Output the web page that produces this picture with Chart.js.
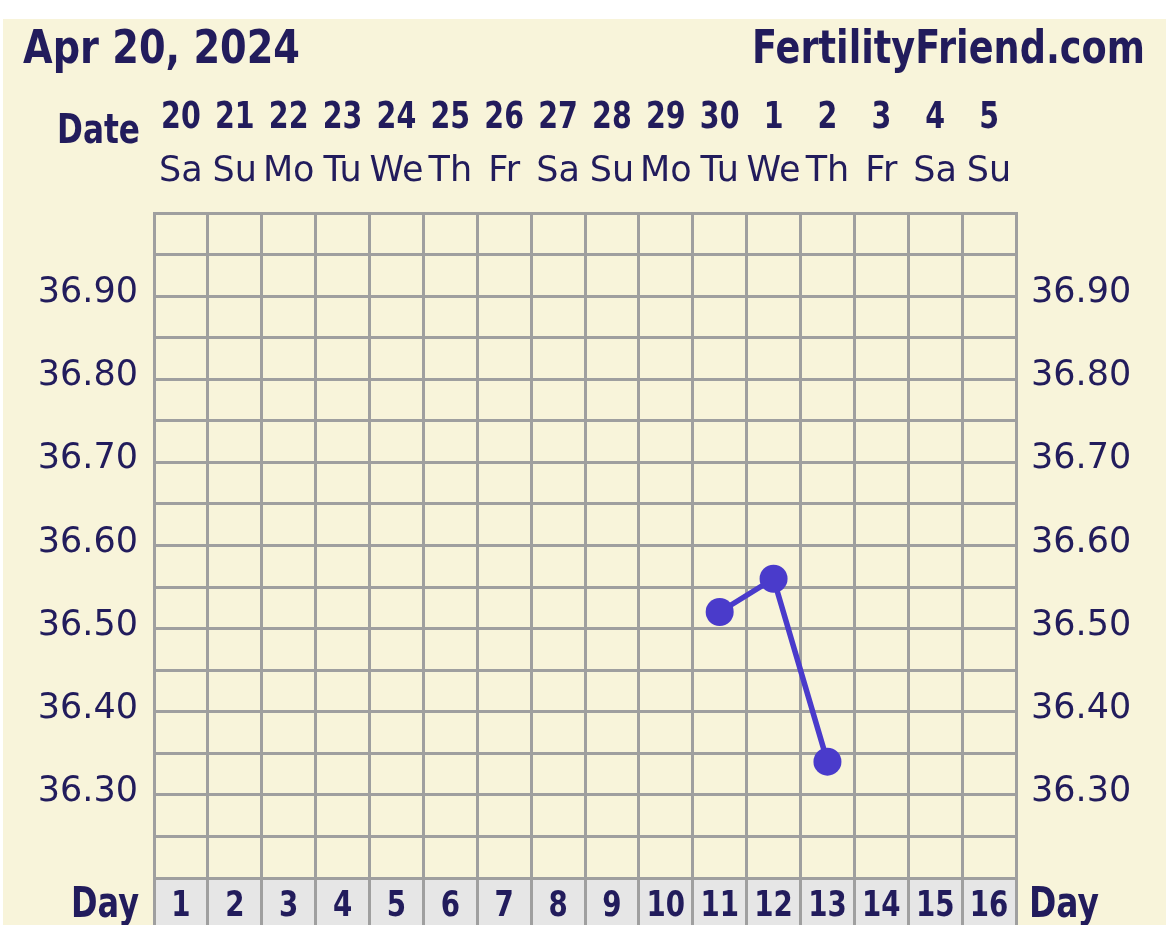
<!DOCTYPE html>
<html>
<head>
<meta charset="utf-8">
<script src="https://cdn.jsdelivr.net/npm/chart.js@4/dist/chart.umd.min.js"></script>
<style>
  html, body { margin: 0; padding: 0; background: #fff; }
  canvas { display: block; }
</style>
</head>
<body>
<canvas id="bbtChart" width="1170" height="925"></canvas>
<script>
const chartDate = 'Apr 20, 2024';
const siteName = 'FertilityFriend.com';

const days = ['1', '2', '3', '4', '5', '6', '7', '8', '9', '10', '11', '12', '13', '14', '15', '16'];
const dates = ['20', '21', '22', '23', '24', '25', '26', '27', '28', '29', '30', '1', '2', '3', '4', '5'];
const weekdays = ['Sa', 'Su', 'Mo', 'Tu', 'We', 'Th', 'Fr', 'Sa', 'Su', 'Mo', 'Tu', 'We', 'Th', 'Fr', 'Sa', 'Su'];
const temps = [null, null, null, null, null, null, null, null, null, null, 36.52, 36.56, 36.34, null, null, null];
const tempLabels = ['36.30', '36.40', '36.50', '36.60', '36.70', '36.80', '36.90'];

const NAVY = '#221c5c';
const CREAM = '#f8f4da';
const GRID = '#9f9f9f';
const BAND = '#e6e6e6';
const LINE = '#4a3bcb';
const BOLD = '"DejaVu Sans"';

// draw text squeezed to a given width (the original uses a condensed bold face)
function fitText(ctx, text, x, y, width, align) {
    const w = ctx.measureText(text).width;
    ctx.save();
    ctx.translate(x, y);
    ctx.scale(width / w, 1);
    ctx.textAlign = align;
    ctx.fillText(text, 0, 0);
    ctx.restore();
}

function squeeze(ctx, text, x, y, k) {
    fitText(ctx, text, x, y, ctx.measureText(text).width * k, 'center');
}

const chartFrame = {
    id: 'chartFrame',
    beforeDraw(chart) {
        const { ctx, chartArea: a } = chart;
        ctx.save();
        ctx.fillStyle = '#ffffff';
        ctx.fillRect(0, 0, chart.width, chart.height);
        ctx.fillStyle = CREAM;
        ctx.fillRect(3, 19, 1163, chart.height - 19);
        ctx.fillStyle = BAND;
        ctx.fillRect(a.left, a.bottom, a.right - a.left, chart.height - a.bottom);
        ctx.restore();
    },
    afterDraw(chart) {
        const { ctx, scales } = chart;
        const x = scales.x;
        ctx.save();
        ctx.fillStyle = NAVY;
        ctx.textBaseline = 'alphabetic';

        ctx.font = 'bold 47px ' + BOLD;
        fitText(ctx, chartDate, 23, 63, 277, 'left');
        fitText(ctx, siteName, 1145, 63, 393, 'right');

        ctx.font = 'bold 40px ' + BOLD;
        fitText(ctx, 'Date', 57, 143, 83, 'left');

        ctx.font = 'bold 42px ' + BOLD;
        fitText(ctx, 'Day', 139, 917, 68, 'right');
        fitText(ctx, 'Day', 1029, 917, 70, 'left');

        ctx.font = 'bold 38px ' + BOLD;
        dates.forEach((d, i) => squeeze(ctx, d, x.getPixelForValue(i), 128, 0.75));

        ctx.font = 'bold 36px ' + BOLD;
        days.forEach((d, i) => squeeze(ctx, d, x.getPixelForValue(i), 916, 0.77));

        ctx.textAlign = 'center';
        ctx.font = '35px "DejaVu Sans"';
        weekdays.forEach((w, i) => ctx.fillText(w, x.getPixelForValue(i), 181));
        ctx.restore();
    }
};

function tempTick(value) {
    const s = Number(value).toFixed(2);
    return tempLabels.includes(s) ? s : '';
}

const yTicks = {
    stepSize: 0.05,
    autoSkip: false,
    color: NAVY,
    padding: 16,
    labelOffset: -3,
    font: { family: '"DejaVu Sans"', size: 35 },
    callback: tempTick
};

const config = {
    type: 'line',
    data: {
        labels: days,
        datasets: [{
            label: 'Temperature',
            data: temps,
            borderColor: LINE,
            backgroundColor: LINE,
            borderWidth: 5.5,
            pointRadius: 14,
            pointHoverRadius: 14,
            pointBackgroundColor: LINE,
            pointBorderWidth: 0,
            tension: 0,
            spanGaps: false
        }]
    },
    options: {
        responsive: false,
        animation: false,
        devicePixelRatio: 1,
        layout: { padding: { top: 213, left: 0, right: 0, bottom: 0 } },
        plugins: {
            legend: { display: false },
            tooltip: { enabled: false },
            title: { display: false }
        },
        scales: {
            x: {
                type: 'category',
                position: 'bottom',
                offset: true,
                grid: {
                    color: GRID,
                    lineWidth: 3,
                    offset: true,
                    drawTicks: true,
                    tickLength: 47,
                    tickColor: GRID,
                    tickWidth: 3
                },
                border: { color: GRID, width: 3 },
                ticks: { display: false },
                afterFit(scale) { scale.height = 47; }
            },
            y: {
                type: 'linear',
                position: 'left',
                min: 36.2,
                max: 37.0,
                grid: { color: GRID, lineWidth: 3, drawTicks: false },
                border: { color: GRID, width: 3 },
                ticks: yTicks,
                afterFit(scale) { scale.width = 154; }
            },
            y2: {
                type: 'linear',
                position: 'right',
                min: 36.2,
                max: 37.0,
                grid: { display: false, drawTicks: false },
                border: { color: GRID, width: 3 },
                ticks: Object.assign({}, yTicks, { padding: 15 }),
                afterFit(scale) { scale.width = 154; }
            }
        }
    },
    plugins: [chartFrame]
};

const bbtChart = new Chart(document.getElementById('bbtChart'), config);
</script>
</body>
</html>
